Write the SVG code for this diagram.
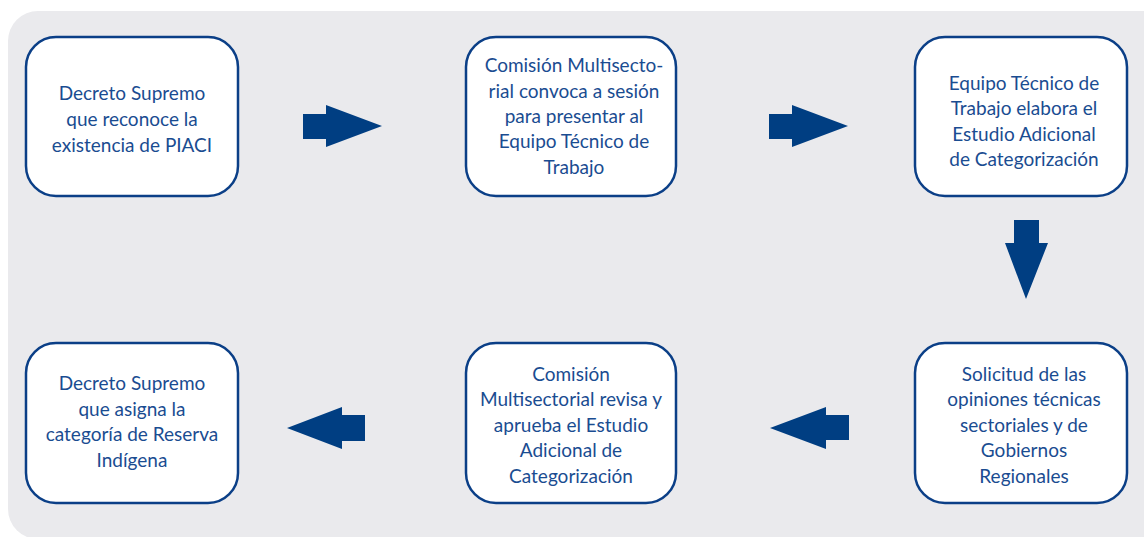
<svg xmlns="http://www.w3.org/2000/svg" width="1144" height="537" viewBox="0 0 1144 537">
<style>
.node rect{fill:#fff;stroke:#0b3f87;stroke-width:2.5}
.node text{font-family:Lato,"Open Sans","Liberation Sans",sans-serif;font-size:19px;fill:#1a4c91;text-anchor:middle}
.arrow{fill:#003e82}
</style>
<rect x="8" y="11" width="1200" height="528" rx="30" fill="#eaeaed"/>
<g id="n1" class="node"><rect x="26" y="37" width="212" height="159" rx="30"/>
<text x="132" y="100">Decreto Supremo</text><text x="132" y="126">que reconoce la</text><text x="132" y="152">existencia de PIACI</text></g>
<g id="n2" class="node"><rect x="466" y="37" width="210" height="159" rx="30"/>
<text x="574" y="72">Comisión Multisecto-</text><text x="574" y="98">rial convoca a sesión</text><text x="574" y="123">para presentar al</text><text x="574" y="148">Equipo Técnico de</text><text x="574" y="174">Trabajo</text></g>
<g id="n3" class="node"><rect x="915" y="37" width="212" height="159" rx="30"/>
<text x="1024" y="90">Equipo Técnico de</text><text x="1024" y="115">Trabajo elabora el</text><text x="1024" y="141">Estudio Adicional</text><text x="1024" y="166">de Categorización</text></g>
<g id="n4" class="node"><rect x="915" y="343" width="212" height="160" rx="30"/>
<text x="1024" y="381">Solicitud de las</text><text x="1024" y="406">opiniones técnicas</text><text x="1024" y="432">sectoriales y de</text><text x="1024" y="457">Gobiernos</text><text x="1024" y="483">Regionales</text></g>
<g id="n5" class="node"><rect x="466" y="343" width="210" height="160" rx="30"/>
<text x="571" y="381">Comisión</text><text x="571" y="406">Multisectorial revisa y</text><text x="571" y="432">aprueba el Estudio</text><text x="571" y="457">Adicional de</text><text x="571" y="483">Categorización</text></g>
<g id="n6" class="node"><rect x="26" y="343" width="212" height="160" rx="30"/>
<text x="132" y="390">Decreto Supremo</text><text x="132" y="416">que asigna la</text><text x="132" y="441">categoría de Reserva</text><text x="132" y="467">Indígena</text></g>
<g id="connectors" class="arrow">
<polygon points="303,114 326,114 326,105 382,126 326,147 326,139 303,139"/>
<polygon points="769,114 792,114 792,105 848,126 792,147 792,139 769,139"/>
<polygon points="1014,220 1039,220 1039,243 1048,243 1026,299 1005,243 1014,243"/>
<polygon points="849,415 826,415 826,407 770,428 826,449 826,440 849,440"/>
<polygon points="365,415 342,415 342,407 287,428 342,449 342,441 365,441"/>
</g>
</svg>
